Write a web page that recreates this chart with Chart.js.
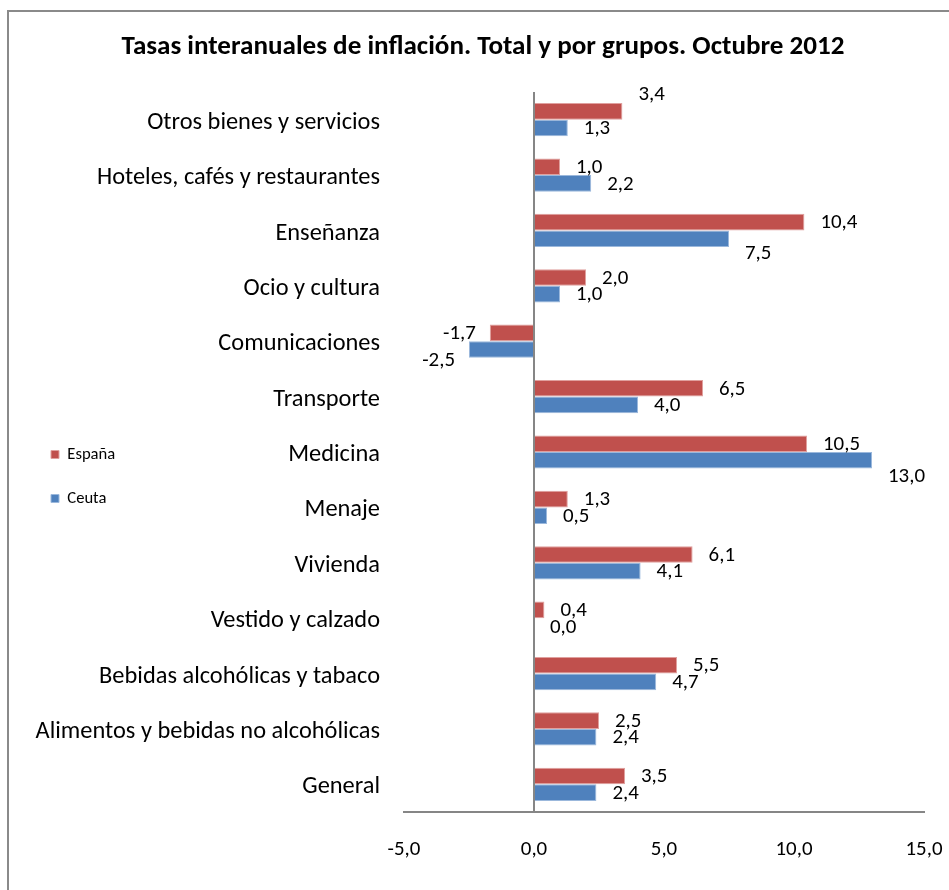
<!DOCTYPE html>
<html lang="es">
<head>
<meta charset="utf-8">
<title>Tasas interanuales de inflación</title>
<script src="https://cdn.jsdelivr.net/npm/chart.js@4.4.1/dist/chart.umd.min.js"></script>
<style>
  html, body { margin: 0; padding: 0; background: #fff; overflow: hidden; }
  #frame {
    position: absolute; left: 7px; top: 10px; width: 1000px; height: 1000px;
    border-left: 2px solid #8a8a8a; border-top: 2px solid #8a8a8a;
  }
  #chart { position: absolute; left: 0; top: 0; }
</style>
</head>
<body>
<div id="frame"></div>
<canvas id="chart" width="949" height="890"></canvas>
<script>
// Data (top to bottom, as in the picture)
const categories = [
  "Otros bienes y servicios",
  "Hoteles, cafés y restaurantes",
  "Enseñanza",
  "Ocio y cultura",
  "Comunicaciones",
  "Transporte",
  "Medicina",
  "Menaje",
  "Vivienda",
  "Vestido y calzado",
  "Bebidas alcohólicas y tabaco",
  "Alimentos y bebidas no alcohólicas",
  "General"
];
const espana = [3.4, 1.0, 10.4, 2.0, -1.7, 6.5, 10.5, 1.3, 6.1, 0.4, 5.5, 2.5, 3.5];
const ceuta = [1.3, 2.2, 7.5, 1.0, -2.5, 4.0, 13.0, 0.5, 4.1, 0.0, 4.7, 2.4, 2.4];
const seriesNames = ["España", "Ceuta"];
const xTicks = [-5, 0, 5, 10, 15];

const TITLE = "Tasas interanuales de inflación. Total y por grupos. Octubre 2012";

// layout
const PLOT_LEFT = 404;
const PLOT_RIGHT = 924;
const PLOT_TOP = 92;
const PLOT_BOTTOM = 812;
const LEGEND_X = 51;

// label nudges (vertical, px) where Excel moved labels off the bar
const labelNudge = [
  { 0: -18 },
  { 2: 14, 4: 10, 6: 15 }
];

const FAMILY = "Carlito, Lato, 'Open Sans', sans-serif";

function fitSize(text, weight, target) {
  const c = document.createElement("canvas").getContext("2d");
  c.font = weight + " 100px " + FAMILY;
  return Math.round(1000 * target / c.measureText(text).width) / 10;
}

const titleSize = fitSize(TITLE, "bold", 722);
const catSize = fitSize("Alimentos y bebidas no alcohólicas", "normal", 345);
const numSize = fitSize("10,4", "normal", 37);
const legendSize = fitSize("España", "normal", 48);
const legendPad = 44 - Math.max(legendSize, 8);
const PAD_LEFT = LEGEND_X - legendPad;

const fmt = (v) => v.toFixed(1).replace(".", ",");

const titlePlugin = {
  id: "excelTitle",
  afterDraw(chart) {
    const ctx = chart.ctx;
    ctx.save();
    ctx.font = "bold " + titleSize + "px " + FAMILY;
    ctx.fillStyle = "#000";
    ctx.textAlign = "center";
    ctx.textBaseline = "middle";
    ctx.fillText(TITLE, 483, 47);
    ctx.restore();
  }
};

// legend sits over the label column like in Excel: it takes no layout
// width, but gets a wider box for drawing
const legendOverlay = {
  id: "legendOverlay",
  afterLayout(chart) {
    const lg = chart.legend;
    if (!lg) return;
    lg.width = 160;
    lg.right = lg.left + 160;
  }
};

const valueLabels = {
  id: "valueLabels",
  afterDatasetsDraw(chart) {
    const ctx = chart.ctx;
    ctx.save();
    ctx.font = numSize + "px " + FAMILY;
    ctx.fillStyle = "#000";
    ctx.textBaseline = "middle";
    chart.data.datasets.forEach((ds, di) => {
      const meta = chart.getDatasetMeta(di);
      meta.data.forEach((bar, i) => {
        const v = ds.data[i];
        const dy = 1 + (labelNudge[di][i] || 0);
        if (v < 0) {
          ctx.textAlign = "right";
          ctx.fillText(fmt(v), bar.x - 14, bar.y + dy);
        } else {
          ctx.textAlign = "left";
          ctx.fillText(fmt(v), bar.x + 16, bar.y + dy);
        }
      });
    });
    ctx.restore();
  }
};

new Chart(document.getElementById("chart"), {
  type: "bar",
  data: {
    labels: categories,
    datasets: [
      {
        label: seriesNames[0],
        data: espana,
        backgroundColor: "#C0504D",
        borderColor: "#E0A09E",
        borderWidth: 1
      },
      {
        label: seriesNames[1],
        data: ceuta,
        backgroundColor: "#4F81BD",
        borderColor: "#9BB8DC",
        borderWidth: 1
      }
    ]
  },
  options: {
    indexAxis: "y",
    responsive: false,
    devicePixelRatio: 1,
    animation: false,
    categoryPercentage: 0.6,
    barPercentage: 1,
    layout: {
      padding: { top: PLOT_TOP, left: PAD_LEFT, right: 949 - PLOT_RIGHT, bottom: 0 }
    },
    plugins: {
      title: { display: false },
      tooltip: { enabled: false },
      legend: {
        position: "left",
        align: "center",
        fullSize: false,
        maxWidth: 1,
        title: { display: true, text: "", font: { size: 10 }, padding: { top: 37, bottom: 0 } },
        labels: {
          boxWidth: 8,
          boxHeight: 8,
          padding: legendPad,
          color: "#000",
          font: { family: FAMILY, size: legendSize }
        }
      }
    },
    scales: {
      x: {
        min: xTicks[0],
        max: xTicks[xTicks.length - 1],
        afterBuildTicks(scale) {
          scale.ticks = xTicks.map((v) => ({ value: v }));
        },
        afterFit(scale) {
          scale.height = 890 - PLOT_BOTTOM;
        },
        grid: {
          drawTicks: true,
          tickLength: 25,
          tickColor: "rgba(0,0,0,0)",
          color: (c) => (c.tick && c.tick.value === 0 ? "#868686" : "rgba(0,0,0,0)"),
          lineWidth: 2
        },
        border: { display: true, color: "#868686", width: 2 },
        ticks: {
          padding: 0,
          color: "#000",
          font: { family: FAMILY, size: numSize },
          callback: (v) => fmt(v)
        }
      },
      y: {
        afterFit(scale) {
          const lg = scale.chart.legend;
          scale.width = PLOT_LEFT - PAD_LEFT - (lg ? lg.width : 0);
        },
        grid: { display: false, drawTicks: false },
        border: { display: false },
        ticks: {
          padding: 24,
          labelOffset: 3,
          color: "#000",
          font: { family: FAMILY, size: catSize }
        }
      }
    }
  },
  plugins: [valueLabels, titlePlugin, legendOverlay]
});
</script>
</body>
</html>
